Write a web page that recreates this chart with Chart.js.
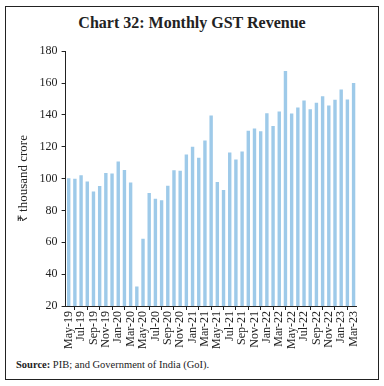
<!DOCTYPE html>
<html>
<head>
<meta charset="utf-8">
<script src="https://cdn.jsdelivr.net/npm/chart.js@4"></script>
<style>
  body { margin: 0; width: 384px; height: 386px; background: #fff; font-family: "Liberation Serif", serif; }
  #frame { position: absolute; left: 5px; top: 6px; width: 372px; height: 372px; border: 1.5px solid #222; }
  #title { position: absolute; left: 0; top: 14px; width: 384px; text-align: center; font-size: 16px; font-weight: bold; color: #222; }
  #wrap { position: absolute; left: 12px; top: 40px; width: 357px; height: 310px; }
  #source { position: absolute; left: 16px; top: 359px; font-size: 10.5px; color: #222; }
</style>
</head>
<body>
<div id="frame"></div>
<div id="title">Chart 32: Monthly GST Revenue</div>
<div id="wrap"><canvas id="myChart"></canvas></div>
<div id="source"><b>Source:</b> PIB; and Government of India (GoI).</div>
<script>
// 월별 라벨 (May-19 ~ Mar-23)
const months = [
  "May-19", "Jun-19", "Jul-19", "Aug-19", "Sep-19", "Oct-19", "Nov-19", "Dec-19",
  "Jan-20", "Feb-20", "Mar-20", "Apr-20", "May-20", "Jun-20", "Jul-20", "Aug-20",
  "Sep-20", "Oct-20", "Nov-20", "Dec-20", "Jan-21", "Feb-21", "Mar-21", "Apr-21",
  "May-21", "Jun-21", "Jul-21", "Aug-21", "Sep-21", "Oct-21", "Nov-21", "Dec-21",
  "Jan-22", "Feb-22", "Mar-22", "Apr-22", "May-22", "Jun-22", "Jul-22", "Aug-22",
  "Sep-22", "Oct-22", "Nov-22", "Dec-22", "Jan-23", "Feb-23", "Mar-23"
];

// GST 수입 (₹ thousand crore)
const gstRevenue = [
  100.3, 99.9, 102.1, 98.2, 91.9, 95.4, 103.5, 103.2,
  110.8, 105.4, 97.6, 32.2, 62.2, 91.0, 87.4, 86.4,
  95.5, 105.2, 104.9, 115.2, 120.0, 113.1, 123.9, 139.7,
  97.8, 92.8, 116.4, 112.0, 117.0, 130.1, 131.5, 129.8,
  141.0, 133.0, 142.1, 167.5, 140.9, 144.6, 149.0, 143.6,
  147.7, 151.7, 145.9, 149.5, 155.9, 149.6, 160.1
];

const yMin = 20;
const yMax = 180;
const yStep = 20;

const tickFont = { family: "Liberation Serif", size: 12 };

const ctx = document.getElementById("myChart").getContext("2d");
new Chart(ctx, {
  type: "bar",
  data: {
    labels: months,
    datasets: [
      {
        label: "GST Revenue",
        data: gstRevenue,
        backgroundColor: "#9ecae9",
        barPercentage: 0.55,
        categoryPercentage: 1.0,
      },
    ],
  },
  options: {
    responsive: true,
    maintainAspectRatio: false,
    animation: false,
    plugins: {
      legend: { display: false },
      tooltip: { enabled: false },
    },
    layout: { padding: { top: 4, right: 2 } },
    scales: {
      x: {
        offset: true,
        grid: { offset: true, drawOnChartArea: false, tickLength: 4, color: "#222" },
        border: { color: "#222" },
        ticks: {
          autoSkip: false,
          maxRotation: 90,
          minRotation: 90,
          padding: 1,
          color: "#222",
          font: tickFont,
          callback: (v, i) => (i % 2 === 0 ? months[i] : null),
        },
      },
      y: {
        min: yMin,
        max: yMax,
        grid: { drawOnChartArea: false, tickLength: 4, color: "#222" },
        border: { color: "#222" },
        ticks: { stepSize: yStep, color: "#222", font: tickFont, padding: 4 },
        title: {
          display: true,
          text: "₹ thousand crore",
          color: "#222",
          font: { family: "Liberation Serif", size: 13 },
          padding: { bottom: 4 },
        },
      },
    },
  },
});
</script>
</body>
</html>
